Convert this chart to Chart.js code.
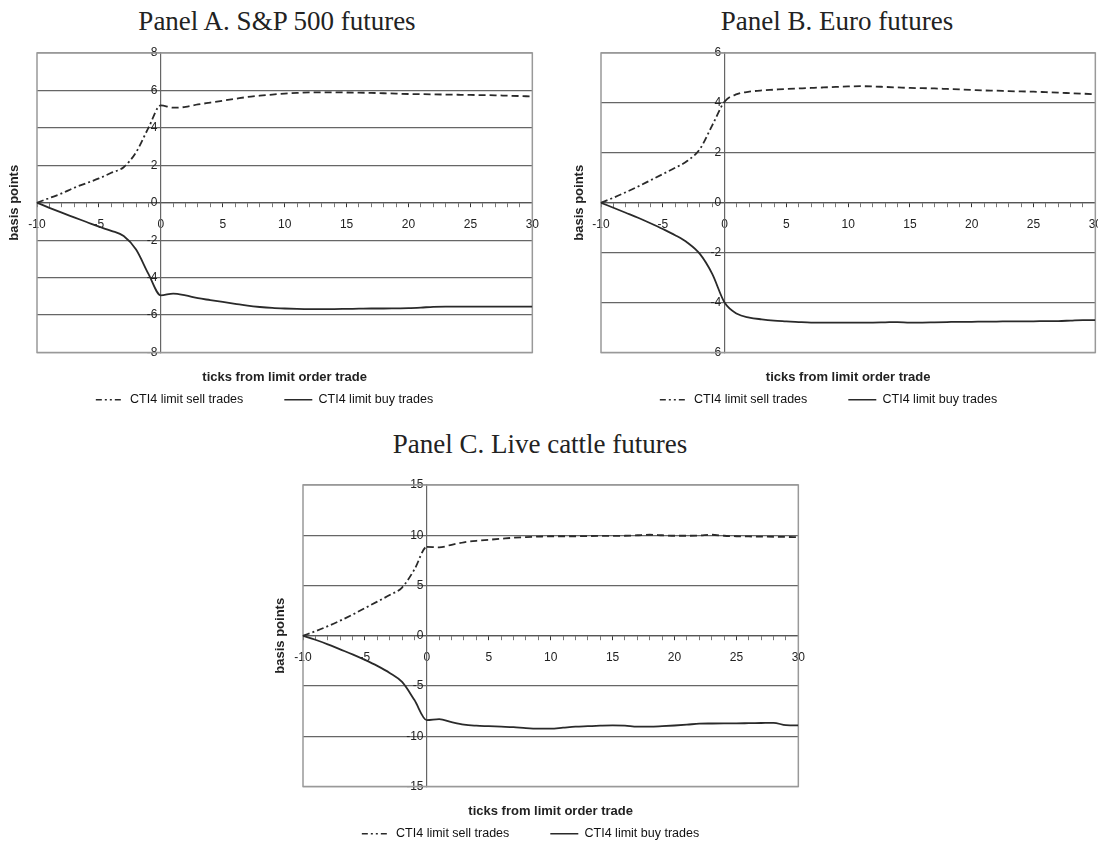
<!DOCTYPE html>
<html>
<head>
<meta charset="utf-8">
<script src="https://cdn.jsdelivr.net/npm/chart.js@4.4.1/dist/chart.umd.min.js"></script>
<style>
  html, body { margin: 0; padding: 0; background: #fff; }
  body { position: relative; width: 1098px; height: 843px; overflow: hidden; }
  .titre {
    position: absolute;
    font-family: "Liberation Serif", serif;
    font-size: 27px;
    color: #222;
    white-space: nowrap;
    transform: translateX(-50%);
  }
  canvas { position: absolute; }
</style>
</head>
<body>
<div class="titre" style="left:277px; top:6px;">Panel A. S&amp;P 500 futures</div>
<div class="titre" style="left:837px; top:6px;">Panel B. Euro futures</div>
<div class="titre" style="left:540px; top:429px;">Panel C. Live cattle futures</div>

<canvas id="chartA" width="563" height="386" style="left:-13px; top:35px;"></canvas>
<canvas id="chartB" width="561" height="386" style="left:552px; top:35px;"></canvas>
<canvas id="chartC" width="563" height="390" style="left:253px; top:465px;"></canvas>

<script>
// ticks relatifs au trade limite
const ticksFromTrade = [-10, -9, -8, -7, -6, -5, -4, -3, -2, -1, 0,
  1, 2, 3, 4, 5, 6, 7, 8, 9, 10, 11, 12, 13, 14, 15, 16, 17, 18, 19, 20,
  21, 22, 23, 24, 25, 26, 27, 28, 29, 30];

// Panel A - S&P 500
const spSell = [0, 0.25, 0.5, 0.8, 1.05, 1.3, 1.6, 1.9, 2.7, 4.0, 5.2,
  5.08, 5.12, 5.25, 5.35, 5.45, 5.55, 5.65, 5.72, 5.78, 5.83,
  5.87, 5.9, 5.9, 5.9, 5.89, 5.88, 5.87, 5.85, 5.83, 5.81,
  5.8, 5.79, 5.78, 5.77, 5.76, 5.75, 5.74, 5.72, 5.7, 5.68];
const spBuy = [0, -0.27, -0.53, -0.78, -1.03, -1.28, -1.5, -1.78, -2.5, -3.8, -4.95,
  -4.85, -4.95, -5.1, -5.2, -5.3, -5.4, -5.5, -5.57, -5.62, -5.65,
  -5.67, -5.68, -5.68, -5.68, -5.67, -5.66, -5.65, -5.65, -5.64, -5.63,
  -5.6, -5.56, -5.55, -5.55, -5.55, -5.55, -5.55, -5.55, -5.55, -5.55];

// Panel B - Euro
const euroSell = [0, 0.2, 0.42, 0.65, 0.9, 1.15, 1.4, 1.68, 2.15, 3.1, 4.05,
  4.35, 4.45, 4.5, 4.53, 4.56, 4.58, 4.6, 4.62, 4.64, 4.66,
  4.67, 4.66, 4.64, 4.62, 4.6, 4.59, 4.58, 4.56, 4.54, 4.52,
  4.5, 4.49, 4.47, 4.46, 4.45, 4.43, 4.41, 4.39, 4.37, 4.35];
const euroBuy = [0, -0.2, -0.4, -0.6, -0.82, -1.05, -1.3, -1.6, -2.05, -2.85, -4.0,
  -4.45, -4.6, -4.67, -4.72, -4.75, -4.78, -4.8, -4.8, -4.8, -4.8,
  -4.8, -4.8, -4.79, -4.78, -4.8, -4.8, -4.79, -4.78, -4.77, -4.77,
  -4.76, -4.76, -4.75, -4.75, -4.75, -4.74, -4.74, -4.72, -4.7, -4.7];

// Panel C - Live cattle
const cattleSell = [0, 0.45, 0.95, 1.5, 2.1, 2.75, 3.4, 4.05, 4.8, 6.6, 8.85,
  8.8, 9.05, 9.3, 9.45, 9.55, 9.65, 9.75, 9.82, 9.86, 9.9,
  9.9, 9.9, 9.92, 9.93, 9.93, 9.95, 10.0, 10.05, 10.0, 9.95,
  9.95, 9.97, 10.05, 9.95, 9.9, 9.88, 9.86, 9.85, 9.83, 9.8];
const cattleBuy = [0, -0.4, -0.85, -1.35, -1.85, -2.4, -3.0, -3.7, -4.6, -6.4, -8.4,
  -8.3, -8.6, -8.85, -8.95, -9.0, -9.05, -9.1, -9.2, -9.25, -9.25,
  -9.15, -9.05, -9.0, -8.95, -8.92, -8.95, -9.05, -9.05, -9.0, -8.93,
  -8.85, -8.75, -8.73, -8.72, -8.72, -8.7, -8.68, -8.66, -8.9, -8.92];

const sellLabel = "CTI4 limit sell trades";
const buyLabel = "CTI4 limit buy trades";
const xTitle = "ticks from limit order trade";
const yTitle = "basis points";

const police = "Liberation Sans";

// cadre gris autour de la zone de tracé
const cadre = {
  id: "cadre",
  beforeDatasetsDraw(chart) {
    const { ctx, chartArea: a } = chart;
    ctx.save();
    ctx.strokeStyle = "#999";
    ctx.lineWidth = 1.5;
    ctx.strokeRect(a.left, a.top, a.right - a.left, a.bottom - a.top);
    ctx.restore();
  }
};

// titre de l'axe X sous la zone de tracé
const titreX = {
  id: "titreX",
  afterDraw(chart) {
    const { ctx, chartArea: a } = chart;
    ctx.save();
    ctx.font = "bold 13px " + police;
    ctx.fillStyle = "#222";
    ctx.textAlign = "center";
    ctx.textBaseline = "middle";
    ctx.fillText(xTitle, (a.left + a.right) / 2, a.bottom + 25);
    ctx.restore();
  }
};

function toPoints(values) {
  return values.map((v, i) => ({ x: ticksFromTrade[i], y: v }));
}

// légende : on garde le pointillé de la série dans l'échantillon
function legendLabels(chart) {
  return Chart.defaults.plugins.legend.labels.generateLabels(chart).map((item) => {
    const ds = chart.data.datasets[item.datasetIndex];
    return { ...item, lineDash: ds.legendDash || [], lineWidth: 1.6, strokeStyle: "#2a2a2a" };
  });
}

function createPanel(canvasId, sell, buy, yMin, yMax, yStep, largeurTitre, padTop) {
  return new Chart(document.getElementById(canvasId), {
    type: "line",
    data: {
      datasets: [
        {
          label: sellLabel,
          data: toPoints(sell),
          borderColor: "#2a2a2a",
          borderWidth: 1.8,
          borderDash: [7, 3, 2, 3],
          legendDash: [6, 3, 2, 3, 2, 3],
          segment: {
            // tirets simples après le trade
            borderDash: (ctx) => (ctx.p0.parsed.x >= 0 ? [7, 4] : undefined)
          },
          pointRadius: 0,
          cubicInterpolationMode: "monotone",
          fill: false,
          xAxisID: "x",
          yAxisID: "y"
        },
        {
          label: buyLabel,
          data: toPoints(buy),
          borderColor: "#2a2a2a",
          borderWidth: 1.8,
          pointRadius: 0,
          cubicInterpolationMode: "monotone",
          fill: false,
          xAxisID: "x",
          yAxisID: "y"
        }
      ]
    },
    options: {
      responsive: false,
      animation: false,
      events: [],
      layout: { padding: { left: 0, top: padTop, right: 8, bottom: 5 } },
      scales: {
        x: {
          type: "linear",
          position: { y: 0 },
          min: -10,
          max: 30,
          grid: {
            drawOnChartArea: false,
            drawTicks: true,
            tickLength: 4,
            tickColor: (c) => (c.tick && c.tick.value % 5 === 0 ? "#333" : "#777")
          },
          border: { display: true, color: "#555", width: 1.2 },
          ticks: {
            stepSize: 1,
            autoSkip: false,
            maxRotation: 0,
            padding: 11,
            color: "#222",
            font: { family: police, size: 12 },
            callback: (v) => (v % 5 === 0 ? String(v) : "")
          }
        },
        y: {
          type: "linear",
          position: { x: 0 },
          min: yMin,
          max: yMax,
          grid: {
            drawTicks: false,
            lineWidth: 1.3,
            color: (c) => (c.tick && (c.tick.value === yMin || c.tick.value === yMax) ? "#999" : "#666")
          },
          border: { display: true, color: "#666", width: 1.2 },
          ticks: {
            stepSize: yStep,
            color: "#222",
            font: { family: police, size: 12 },
            callback: (v) => v + " "
          }
        },
        // axe invisible à gauche, il porte seulement le titre "basis points"
        yTitre: {
          type: "linear",
          position: "left",
          min: 0,
          max: 1,
          grid: { display: false, drawTicks: false },
          border: { display: false },
          ticks: { display: false },
          title: {
            display: true,
            text: yTitle,
            color: "#222",
            font: { family: police, size: 13, weight: "bold" },
            padding: { top: 20, bottom: 0 }
          },
          afterFit: (s) => { s.width = largeurTitre; }
        }
      },
      plugins: {
        tooltip: { enabled: false },
        legend: {
          position: "bottom",
          labels: {
            usePointStyle: true,
            pointStyle: "line",
            pointStyleWidth: 28,
            padding: 41,
            color: "#111",
            font: { family: police, size: 12.5 },
            generateLabels: legendLabels
          }
        }
      }
    },
    plugins: [cadre, titreX]
  });
}

createPanel("chartA", spSell, spBuy, -8, 8, 2, 50, 18);
createPanel("chartB", euroSell, euroBuy, -6, 6, 2, 49, 18);
createPanel("chartC", cattleSell, cattleBuy, -15, 15, 5, 50, 20);
</script>
</body>
</html>
